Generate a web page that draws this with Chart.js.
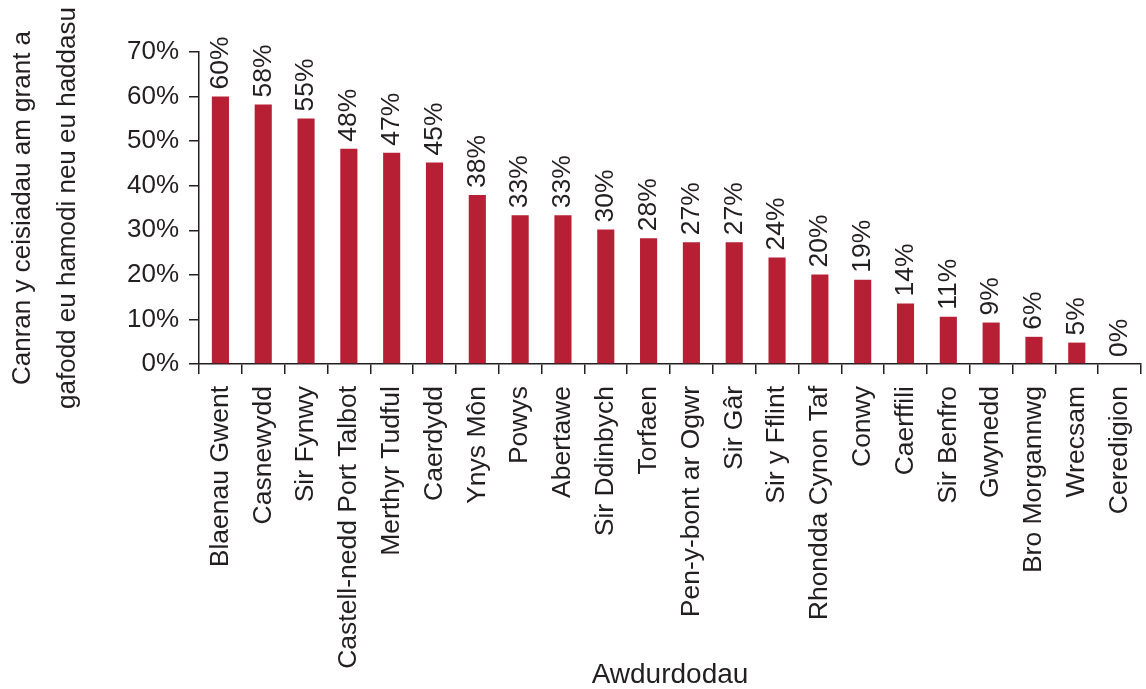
<!DOCTYPE html>
<html>
<head>
<meta charset="utf-8">
<script src="https://cdn.jsdelivr.net/npm/chart.js@4/dist/chart.umd.min.js"></script>
<style>
  html, body { margin: 0; padding: 0; background: #fff; }
  #wrap { width: 1146px; height: 689px; }
</style>
</head>
<body>
<div id="wrap"><canvas id="chart" width="1146" height="689"></canvas></div>
<script>
const authorities = [
  'Blaenau Gwent', 'Casnewydd', 'Sir Fynwy', 'Castell-nedd Port Talbot', 'Merthyr Tudful',
  'Caerdydd', 'Ynys Môn', 'Powys', 'Abertawe', 'Sir Ddinbych', 'Torfaen',
  'Pen-y-bont ar Ogwr', 'Sir Gâr', 'Sir y Fflint', 'Rhondda Cynon Taf', 'Conwy',
  'Caerffili', 'Sir Benfro', 'Gwynedd', 'Bro Morgannwg', 'Wrecsam', 'Ceredigion'
];
const shares = [
  60.0, 58.2, 55.1, 48.3, 47.4, 45.2, 37.9, 33.4, 33.4, 30.2, 28.2,
  27.3, 27.3, 23.9, 20.1, 18.9, 13.6, 10.6, 9.3, 6.1, 4.8, 0
];
const yTicks = [0, 10, 20, 30, 40, 50, 60, 70];
const yTitle = ['Canran y ceisiadau am grant a', 'gafodd eu hamodi neu eu haddasu'];
const xTitle = 'Awdurdodau';

const FONT = '"Liberation Sans", Arial, sans-serif';
const INK = '#231f20';
const BAR = '#b72034';

// labels de valeur tournés au-dessus des barres
const barLabels = {
  id: 'barLabels',
  afterDatasetsDraw(chart) {
    const { ctx } = chart;
    const meta = chart.getDatasetMeta(0);
    ctx.save();
    ctx.fillStyle = INK;
    ctx.font = '26.5px ' + FONT;
    ctx.textAlign = 'left';
    ctx.textBaseline = 'middle';
    meta.data.forEach((bar, i) => {
      ctx.save();
      ctx.translate(bar.x, bar.y - 7);
      ctx.rotate(-Math.PI / 2);
      ctx.fillText(Math.round(shares[i]) + '%', 0, 0);
      ctx.restore();
    });
    ctx.restore();
  }
};

new Chart(document.getElementById('chart'), {
  type: 'bar',
  data: {
    labels: authorities,
    datasets: [{
      data: shares,
      backgroundColor: BAR,
      borderWidth: 0,
      barPercentage: 0.4,
      categoryPercentage: 1
    }]
  },
  options: {
    responsive: false,
    animation: false,
    layout: { padding: { top: 52, right: 5, left: 0, bottom: 0 } },
    plugins: { legend: { display: false }, tooltip: { enabled: false } },
    scales: {
      x: {
        grid: { display: true, drawOnChartArea: false, drawTicks: true, tickLength: 10, color: INK, lineWidth: 1.5 },
        border: { display: true, color: INK, width: 1.5 },
        ticks: {
          color: INK, font: { family: FONT, size: 26.5 },
          minRotation: 90, maxRotation: 90, padding: 12, autoSkip: false
        },
        title: {
          display: true, text: xTitle, color: INK,
          font: { family: FONT, size: 28, lineHeight: 1 }, padding: 0
        },
        afterFit(scale) {
          scale.height = 325;
          scale.paddingLeft = 0;
          scale.paddingRight = 0;
        }
      },
      y: {
        min: 0, max: 70,
        afterBuildTicks(scale) { scale.ticks = yTicks.map(v => ({ value: v })); },
        grid: { display: true, drawOnChartArea: false, drawTicks: true, tickLength: 10, color: INK, lineWidth: 1.5 },
        border: { display: true, color: INK, width: 1.5 },
        ticks: {
          color: INK, font: { family: FONT, size: 26 }, padding: 10,
          callback: v => v + '%'
        },
        title: {
          display: true, text: yTitle, color: INK,
          font: { family: FONT, size: 26, lineHeight: 1.75 }, padding: 0
        },
        afterFit(scale) {
          scale.width = 199;
          scale.paddingTop = 0;
          scale.paddingBottom = 0;
        }
      }
    }
  },
  plugins: [barLabels]
});
</script>
</body>
</html>
